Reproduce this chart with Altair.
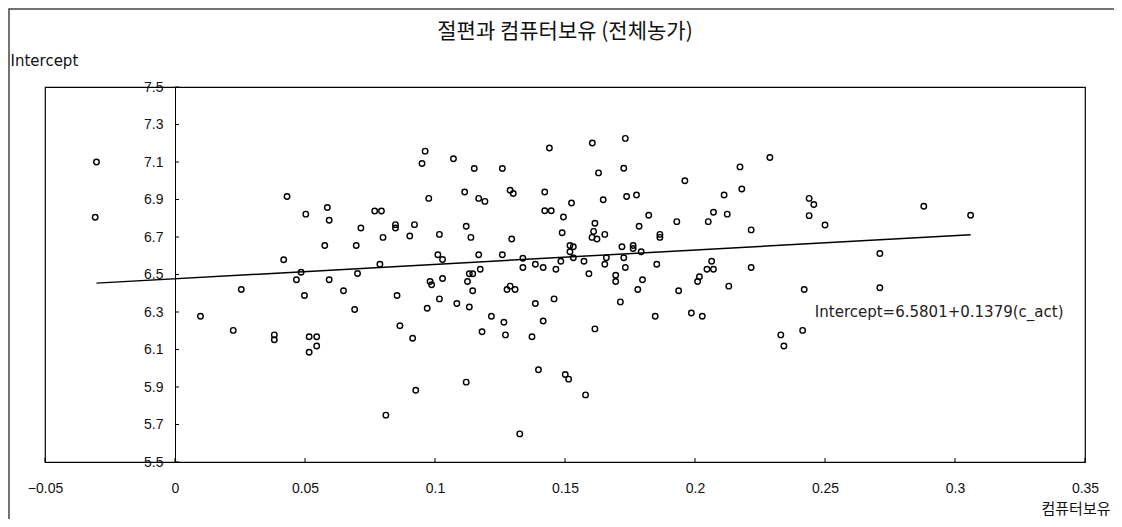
import altair as alt
import pandas as pd

# ---------------- data ----------------
x_vals = [
    -0.0302, -0.0307, 0.0098,
    0.0431, 0.0503, 0.0586, 0.0593, 0.0768, 0.0794, 0.0715, 0.0800, 0.0576, 0.0697,
    0.0418, 0.0788, 0.0485, 0.0467, 0.0593, 0.0702, 0.0255, 0.0498, 0.0648, 0.0691,
    0.0224, 0.0382, 0.0382, 0.0516, 0.0545, 0.0545, 0.0516, 0.0811,
    0.0962, 0.0950, 0.1071, 0.1151, 0.1259, 0.1440, 0.0976, 0.1114, 0.1168, 0.1192,
    0.1289, 0.1301, 0.1422, 0.1422, 0.1447, 0.0848, 0.0848, 0.0921, 0.0903, 0.1017,
    0.1120, 0.1138, 0.1295, 0.1011, 0.1029, 0.1168, 0.1259, 0.1338, 0.1338, 0.1386,
    0.1416, 0.1465, 0.1132, 0.1145, 0.1174, 0.0981, 0.0987, 0.1029, 0.1125, 0.1145,
    0.1289, 0.1277, 0.1308, 0.0854, 0.1017, 0.1084, 0.1132, 0.0970, 0.1386, 0.1458,
    0.1217, 0.1265, 0.1416, 0.0865, 0.0914, 0.1181, 0.1271, 0.1373, 0.1398, 0.1120,
    0.0926, 0.1326,
    0.1605, 0.1732, 0.1726, 0.1629, 0.1961, 0.2112, 0.1525, 0.1647, 0.1737, 0.1775,
    0.1494, 0.1822, 0.1930, 0.2051, 0.2071, 0.2124, 0.1615, 0.1489, 0.1610, 0.1653,
    0.1604, 0.1623, 0.1785, 0.1865, 0.1865, 0.1519, 0.1532, 0.1519, 0.1719, 0.1762,
    0.1762, 0.1793, 0.1532, 0.1484, 0.1573, 0.1659, 0.1726, 0.1592, 0.1653, 0.1732,
    0.1853, 0.1695, 0.1695, 0.1798, 0.1780, 0.1937, 0.2010, 0.2017, 0.2046, 0.2071,
    0.2064, 0.2130, 0.1713, 0.1847, 0.1986, 0.2028, 0.1615, 0.1501, 0.1514, 0.1579,
    0.2288, 0.2173, 0.2180, 0.2216, 0.2439, 0.2457, 0.2439, 0.2500, 0.2711, 0.2216,
    0.2420, 0.2711, 0.2414, 0.2330, 0.2342,
    0.2880, 0.3060,
]
y_vals = [
    7.100, 6.805, 6.277,
    6.916, 6.822, 6.857, 6.789, 6.839, 6.839, 6.748, 6.698, 6.655, 6.655,
    6.579, 6.555, 6.512, 6.472, 6.472, 6.505, 6.420, 6.388, 6.413, 6.313,
    6.202, 6.178, 6.152, 6.168, 6.168, 6.119, 6.085, 5.750,
    7.158, 7.092, 7.117, 7.065, 7.065, 7.175, 6.906, 6.940, 6.906, 6.890,
    6.949, 6.932, 6.940, 6.840, 6.840, 6.766, 6.748, 6.766, 6.705, 6.714,
    6.757, 6.698, 6.689, 6.605, 6.580, 6.605, 6.605, 6.587, 6.537, 6.555,
    6.537, 6.528, 6.504, 6.504, 6.528, 6.463, 6.445, 6.479, 6.463, 6.413,
    6.438, 6.420, 6.420, 6.388, 6.370, 6.345, 6.327, 6.320, 6.345, 6.370,
    6.277, 6.245, 6.252, 6.227, 6.160, 6.195, 6.178, 6.168, 5.992, 5.926,
    5.883, 5.650,
    7.201, 7.226, 7.067, 7.042, 7.000, 6.924, 6.881, 6.899, 6.916, 6.924,
    6.807, 6.816, 6.782, 6.782, 6.832, 6.822, 6.773, 6.723, 6.730, 6.714,
    6.698, 6.689, 6.757, 6.714, 6.698, 6.655, 6.648, 6.621, 6.648, 6.655,
    6.639, 6.621, 6.589, 6.571, 6.571, 6.589, 6.589, 6.504, 6.555, 6.537,
    6.555, 6.496, 6.463, 6.472, 6.420, 6.413, 6.463, 6.488, 6.528, 6.528,
    6.571, 6.438, 6.354, 6.277, 6.295, 6.277, 6.210, 5.967, 5.942, 5.858,
    7.124, 7.074, 6.956, 6.738, 6.906, 6.873, 6.814, 6.764, 6.612, 6.537,
    6.420, 6.429, 6.202, 6.178, 6.119,
    6.864, 6.816,
]

line_x = [-0.0302, 0.306]
line_y = [6.454, 6.712]

x_ticks = [-0.05, 0, 0.05, 0.1, 0.15, 0.2, 0.25, 0.3, 0.35]
y_ticks = [5.5, 5.7, 5.9, 6.1, 6.3, 6.5, 6.7, 6.9, 7.1, 7.3, 7.5]

title_text = "절편과 컴퓨터보유 (전체농가)"
x_title = "컴퓨터보유"
y_title = "Intercept"
eq_text = ["Intercept=6.5801+0.1379(c_act)"]
eq_x = [0.2461]
eq_y = [6.298]

# ---------------- chart ----------------
W, H = 1040, 375
PAD_L, PAD_T, PAD_R, PAD_B = 37, 79, 29, 57
XMIN, XMAX = -0.05, 0.35
y_axis_shift = W * (0 - XMIN) / (XMAX - XMIN)  # y axis sits at x = 0

pts = pd.DataFrame({"x": x_vals, "y": y_vals})
line_df = pd.DataFrame({"x": line_x, "y": line_y})
xt_df = pd.DataFrame({"x": x_ticks})
yt_df = pd.DataFrame({"y": y_ticks})
eq_df = pd.DataFrame({"x": eq_x, "y": eq_y, "label": eq_text})

xs = alt.Scale(domain=[XMIN, XMAX], nice=False, zero=False)
ys = alt.Scale(domain=[5.5, 7.5], nice=False, zero=False)

LABEL_FONT = "Liberation Sans"

x_axis = alt.Axis(
    values=x_ticks, format="~g", domain=False, ticks=False, grid=False,
    labelFont=LABEL_FONT, labelFontSize=14, labelColor="#111", labelPadding=19,
    labelFlush=False, labelOverlap=False,
    title=x_title, titleFont="Noto Sans CJK KR", titleFontSize=15, titleFontWeight="normal",
    titleColor="#111", titleAngle=0, titleAlign="right", titleBaseline="middle",
    titleX=W + 25, titleY=46,
)
y_axis = alt.Axis(
    values=y_ticks, format=".1f", domain=True, domainColor="black", domainWidth=1,
    ticks=False, grid=False, offset=-y_axis_shift,
    labelFont=LABEL_FONT, labelFontSize=14, labelColor="#111", labelPadding=12,
    labelFlush=False, labelOverlap=False, labelBound=False,
    title=y_title, titleFont="DejaVu Sans", titleFontSize=15, titleFontWeight="normal",
    titleColor="#111", titleAngle=0, titleAlign="left", titleBaseline="middle",
    titleX=-(35 + y_axis_shift), titleY=-27,
)

X = lambda: alt.X("x:Q", scale=xs, axis=x_axis)
Y = lambda: alt.Y("y:Q", scale=ys, axis=y_axis)

points = alt.Chart(pts).mark_point(
    shape="circle", filled=False, color="black", size=30, strokeWidth=1.4, opacity=1
).encode(x=X(), y=Y())

reg = alt.Chart(line_df).mark_line(color="black", strokeWidth=1.5).encode(x=X(), y=Y())

xticks = alt.Chart(xt_df).mark_rule(color="black", strokeWidth=1).encode(
    x=X(), y=alt.value(H - 4), y2=alt.value(H)
)

yticks = alt.Chart(yt_df).mark_rule(color="black", strokeWidth=1).encode(
    x=alt.value(y_axis_shift), x2=alt.value(y_axis_shift + 4), y=Y()
)

eq = alt.Chart(eq_df).mark_text(
    align="left", baseline="middle", font="DejaVu Sans", fontSize=15, color="#222"
).encode(x=X(), y=Y(), text="label:N")

# outer frame of the whole picture (drawn at the canvas edge)
border = alt.Chart(pd.DataFrame({"k": [0]})).mark_rect(
    fillOpacity=0, stroke="#444", strokeWidth=1.5, clip=False
).encode(
    x=alt.value(-PAD_L + 1), x2=alt.value(W + PAD_R + 60),
    y=alt.value(-PAD_T + 1), y2=alt.value(H + PAD_B + 60),
)

chart = alt.layer(points, reg, xticks, yticks, eq, border).properties(
    width=W, height=H,
    title=alt.TitleParams(
        text=title_text, anchor="middle", font="Noto Sans CJK KR", fontSize=21,
        fontWeight="normal", color="#111", offset=-34,
    ),
    autosize="none",
    background="white",
    padding={"left": PAD_L, "top": PAD_T, "right": PAD_R, "bottom": PAD_B},
).configure_view(
    stroke="black", strokeWidth=1.2
)

chart.save("out.html", embed_options={"renderer": "svg", "actions": False})
